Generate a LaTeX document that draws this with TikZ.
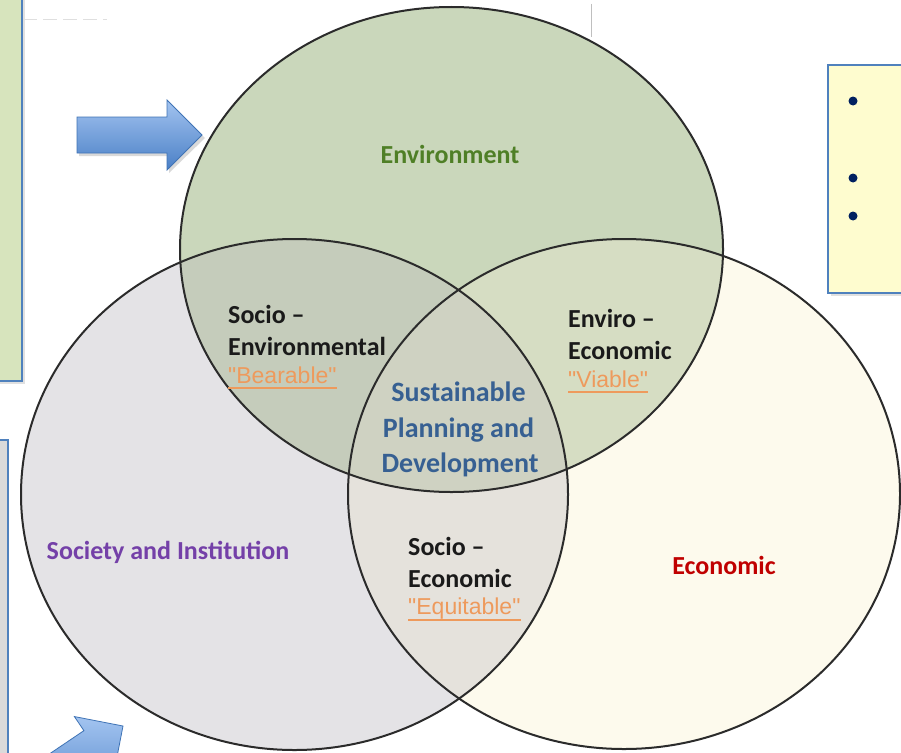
\documentclass[tikz,border=0pt]{standalone}
\usepackage{fontspec}
\setmainfont{Carlito}
\newfontfamily\quotefont{Liberation Sans}
\definecolor{envfill}{HTML}{CAD7BB}
\definecolor{socfill}{HTML}{E4E3E6}
\definecolor{ecofill}{HTML}{FDFAED}
\definecolor{envsoc}{HTML}{C5CCBB}
\definecolor{enveco}{HTML}{D6DDC3}
\definecolor{soceco}{HTML}{E5E2DC}
\definecolor{triple}{HTML}{CFD2C2}
\definecolor{ringcol}{HTML}{2B2B2B}
\definecolor{boxblue}{HTML}{4F81BD}
\definecolor{greenbox}{HTML}{D7E4BD}
\definecolor{graybox}{HTML}{DADADA}
\definecolor{yellowbox}{HTML}{FEFCCF}
\definecolor{navy}{HTML}{002060}
\definecolor{arrowlight}{HTML}{A3C4F0}
\definecolor{arrowdark}{HTML}{4A7FC6}
\definecolor{arrowedge}{HTML}{3F73B5}
\definecolor{envtext}{HTML}{4F7F26}
\definecolor{soctext}{HTML}{7440A8}
\definecolor{ecotext}{HTML}{C00000}
\definecolor{sustext}{HTML}{376092}
\definecolor{quotecol}{HTML}{EE9A5C}
\definecolor{darktext}{HTML}{1A1A1A}
\begin{document}
\begin{tikzpicture}[x=1pt,y=-1pt,
  lbl/.style={font=\fontsize{26}{30}\selectfont\bfseries, inner sep=0pt},
  sus/.style={font=\fontsize{28}{34}\selectfont\bfseries, inner sep=0pt, text=sustext},
  blk/.style={lbl, text=darktext, anchor=base west},
  qt/.style={font=\quotefont\fontsize{23}{26}\selectfont, inner sep=0pt, text=quotecol, anchor=base west},
  ul/.style={draw=quotecol, line width=1.3pt},
  ring/.style={draw=ringcol, line width=2pt},
  sidebox/.style={draw=boxblue, line width=1.3pt},
  shadowbox/.style={fill=black, opacity=0.12},
  arrowshape/.style={top color=arrowlight, bottom color=arrowdark, draw=arrowedge, line width=0.8pt},
  bulletdot/.style={fill=navy}]
\useasboundingbox (0,0) rectangle (901,752);
\fill[white] (0,0) rectangle (901,752);

% side boxes
\fill[shadowbox] (-2,-2) rectangle (25,384);
\filldraw[sidebox, fill=greenbox] (-2,-2) rectangle (22,381);
\filldraw[sidebox, fill=graybox] (-2,440) rectangle (8,760);
\fill[shadowbox] (831,68) rectangle (905,296);
\filldraw[sidebox, fill=yellowbox] (828,65) rectangle (905,293);
\fill[bulletdot] (853,101) circle (4.5);
\fill[bulletdot] (853,178) circle (4.5);
\fill[bulletdot] (853,216) circle (4.5);

% faint marks at the top
\draw[gray!50, line width=0.8pt] (591,4) -- (591,37);
\draw[gray!25, line width=1pt, dash pattern=on 14pt off 6pt] (23,20) -- (107,20);

% circles: fills
\fill[ecofill] (624,494) ellipse [x radius=276, y radius=255];
\fill[socfill] (294.5,494.5) ellipse [x radius=273.5, y radius=255.5];
\begin{scope}
  \clip (294.5,494.5) ellipse [x radius=273.5, y radius=255.5];
  \fill[soceco] (624,494) ellipse [x radius=276, y radius=255];
\end{scope}
\fill[envfill] (451.5,249.5) ellipse [x radius=271.5, y radius=242.5];
\begin{scope}
  \clip (451.5,249.5) ellipse [x radius=271.5, y radius=242.5];
  \fill[envsoc] (294.5,494.5) ellipse [x radius=273.5, y radius=255.5];
  \fill[enveco] (624,494) ellipse [x radius=276, y radius=255];
  \clip (294.5,494.5) ellipse [x radius=273.5, y radius=255.5];
  \fill[triple] (624,494) ellipse [x radius=276, y radius=255];
\end{scope}
% circles: outlines
\draw[ring] (624,494) ellipse [x radius=276, y radius=255];
\draw[ring] (294.5,494.5) ellipse [x radius=273.5, y radius=255.5];
\draw[ring] (451.5,249.5) ellipse [x radius=271.5, y radius=242.5];

% arrows
\begin{scope}[shift={(202,135)}]
  \fill[black, opacity=0.15] (-123,-15) -- (-33,-15) -- (-33,-32) -- (3,3) -- (-33,38) -- (-33,21) -- (-123,21) -- cycle;
  \shade[arrowshape] (-125,-18) -- (-35,-18) -- (-35,-35) -- (0,0) -- (-35,35) -- (-35,18) -- (-125,18) -- cycle;
\end{scope}
\begin{scope}[shift={(123,726)}, rotate=34]
  \shade[arrowshape] (-125,-18) -- (-35,-18) -- (-35,-35) -- (0,0) -- (-35,35) -- (-35,18) -- (-125,18) -- cycle;
\end{scope}

% labels
\node[lbl, text=envtext, anchor=base] (env) at (450,163) {Environment};
\node[lbl, text=soctext, anchor=base] (soc) at (168,559) {Society and Institution};
\node[lbl, text=ecotext, anchor=base] (eco) at (724,574) {Economic};

\node[sus, anchor=base] (sus1) at (458.5,401) {Sustainable};
\node[sus, anchor=base] (sus2) at (458.5,437) {Planning and};
\node[sus, anchor=base] (sus3) at (460,472) {Development};

\node[blk] (se1) at (228,323) {Socio –};
\node[blk] (se2) at (228,355) {Environmental};
\node[qt] (se3) at (228,383) {"Bearable"};
\draw[ul] ([yshift=-5pt]se3.base west) -- ([yshift=-5pt]se3.base east);

\node[blk] (ee1) at (568,327) {Enviro –};
\node[blk] (ee2) at (568,359) {Economic};
\node[qt] (ee3) at (568,387) {"Viable"};
\draw[ul] ([yshift=-5pt]ee3.base west) -- ([yshift=-5pt]ee3.base east);

\node[blk] (sc1) at (408,555) {Socio –};
\node[blk] (sc2) at (408,587) {Economic};
\node[qt] (sc3) at (408,614) {"Equitable"};
\draw[ul] ([yshift=-6pt]sc3.base west) -- ([yshift=-6pt]sc3.base east);
\end{tikzpicture}
\end{document}
